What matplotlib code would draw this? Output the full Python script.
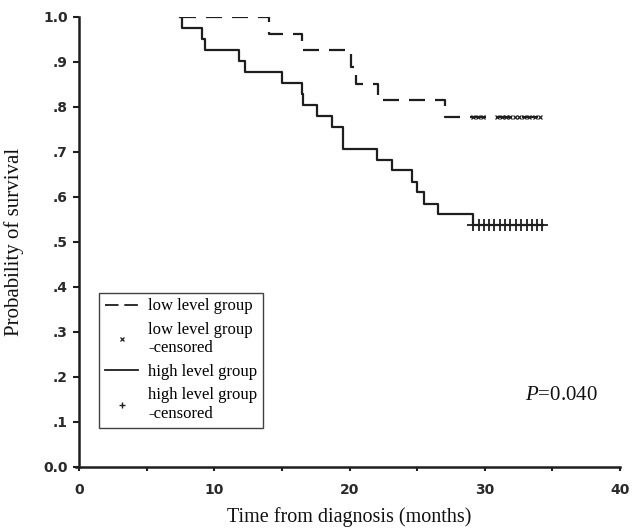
import matplotlib
matplotlib.use("Agg")
import matplotlib.pyplot as plt
from matplotlib.lines import Line2D

# ---- data ----
low_times = [7.5, 14.05, 16.5, 20.1, 20.45, 22.1, 27.05, 34.4]
low_surv = [1.0, 0.963, 0.926, 0.889, 0.852, 0.815, 0.778, 0.778]
low_censor_times = [29.1, 29.5, 29.9, 30.9, 31.3, 31.6, 31.9, 32.2, 32.5, 32.9, 33.3, 33.7, 34.1]
low_censor_surv = 0.778

high_times = [7.5, 7.58, 9.1, 9.35, 11.82, 12.27, 14.98, 16.46, 16.58, 17.57, 18.68,
              19.55, 22.05, 23.11, 24.65, 24.96, 25.5, 26.56, 29.1, 34.3]
high_surv = [1.0, 0.976, 0.951, 0.927, 0.902, 0.878, 0.854, 0.829, 0.805, 0.780, 0.756,
             0.707, 0.683, 0.659, 0.634, 0.610, 0.585, 0.561, 0.537, 0.537]
high_censor_times = [29.1, 29.6, 29.96, 30.3, 30.7, 31.1, 31.5, 31.9, 32.3, 32.7, 33.1, 33.5, 33.9, 34.2]
high_censor_surv = 0.537

x_ticks = [0, 10, 20, 30, 40]
y_ticks = [0.0, 0.1, 0.2, 0.3, 0.4, 0.5, 0.6, 0.7, 0.8, 0.9, 1.0]
y_tick_labels = ["0.0", ".1", ".2", ".3", ".4", ".5", ".6", ".7", ".8", ".9", "1.0"]
legend_labels = ["low level group", "low level group\n-censored",
                 "high level group", "high level group\n-censored"]
p_text = "$\\mathit{P}$=0.040"

# ---- drawing ----
plt.rcParams["mathtext.fontset"] = "custom"
plt.rcParams["mathtext.it"] = "Liberation Serif:italic"
plt.rcParams["mathtext.rm"] = "Liberation Serif"

col = "#1e1e1e"
serif = ["Liberation Serif", "DejaVu Serif"]

fig = plt.figure(figsize=(6.33, 5.30), dpi=100)
ax = fig.add_axes([79 / 633, 1 - 466.7 / 530, (620 - 79) / 633, (466.7 - 17) / 530])

ax.plot(low_times, low_surv, drawstyle="steps-post", color=col, lw=1.6,
        linestyle=(0, (7.2, 4.5)))
ax.plot(low_censor_times, [low_censor_surv] * len(low_censor_times), linestyle="none",
        marker="x", ms=3.5, mew=0.9, color=col)
ax.plot(high_times, high_surv, drawstyle="steps-post", color=col, lw=1.6)
ax.plot(high_censor_times, [high_censor_surv] * len(high_censor_times), linestyle="none",
        marker="+", ms=8, mew=1.3, color=col)

ax.set_xlim(0, 40)
ax.set_ylim(0, 1.0)
ax.set_xticks(x_ticks)
ax.set_xticks([5, 15, 25, 35], minor=True)
ax.set_yticks(y_ticks)
ax.set_yticklabels(y_tick_labels)
for lab in ax.get_xticklabels() + ax.get_yticklabels():
    lab.set_fontfamily("DejaVu Sans")
    lab.set_fontweight("bold")
    lab.set_fontsize(10)
    lab.set_color("#2a2a2a")
ax.tick_params(axis="both", which="both", direction="out", width=1.5, color=col)
ax.tick_params(axis="y", which="major", length=4, pad=4)
ax.tick_params(axis="x", which="both", length=3, pad=9)

for s in ["top", "right"]:
    ax.spines[s].set_visible(False)
for s in ["left", "bottom"]:
    ax.spines[s].set_linewidth(1.8)
    ax.spines[s].set_color(col)
ax.spines["bottom"].set_bounds(-0.2, 40)
ax.spines["bottom"].set_clip_on(False)

ax.set_xlabel("Time from diagnosis (months)", fontfamily=serif, fontsize=14.5, labelpad=7,
              color="#111111")
ax.set_ylabel("Probability of survival", fontfamily=serif, fontsize=15, labelpad=14,
              color="#111111")

handles = [
    Line2D([], [], color=col, lw=1.3, linestyle=(0, (7.5, 3.2))),
    Line2D([], [], color=col, linestyle="none", marker="x", ms=3.5, mew=0.9),
    Line2D([], [], color=col, lw=1.3),
    Line2D([], [], color=col, linestyle="none", marker="+", ms=5, mew=1.0),
]
leg = ax.legend(handles, legend_labels, loc="lower left", bbox_to_anchor=(0.037, 0.087),
                prop={"family": serif, "size": 12}, frameon=True, fancybox=False,
                handlelength=2.0, handletextpad=0.6, borderpad=0.35, labelspacing=0.45,
                borderaxespad=0)
leg.get_frame().set_edgecolor("#111111")
leg.get_frame().set_linewidth(1.0)

ax.text(0.959, 0.158, p_text, transform=ax.transAxes, fontfamily=serif, fontsize=15,
        ha="right", va="center", color="#111111")

fig.savefig("out.png", dpi=100)
